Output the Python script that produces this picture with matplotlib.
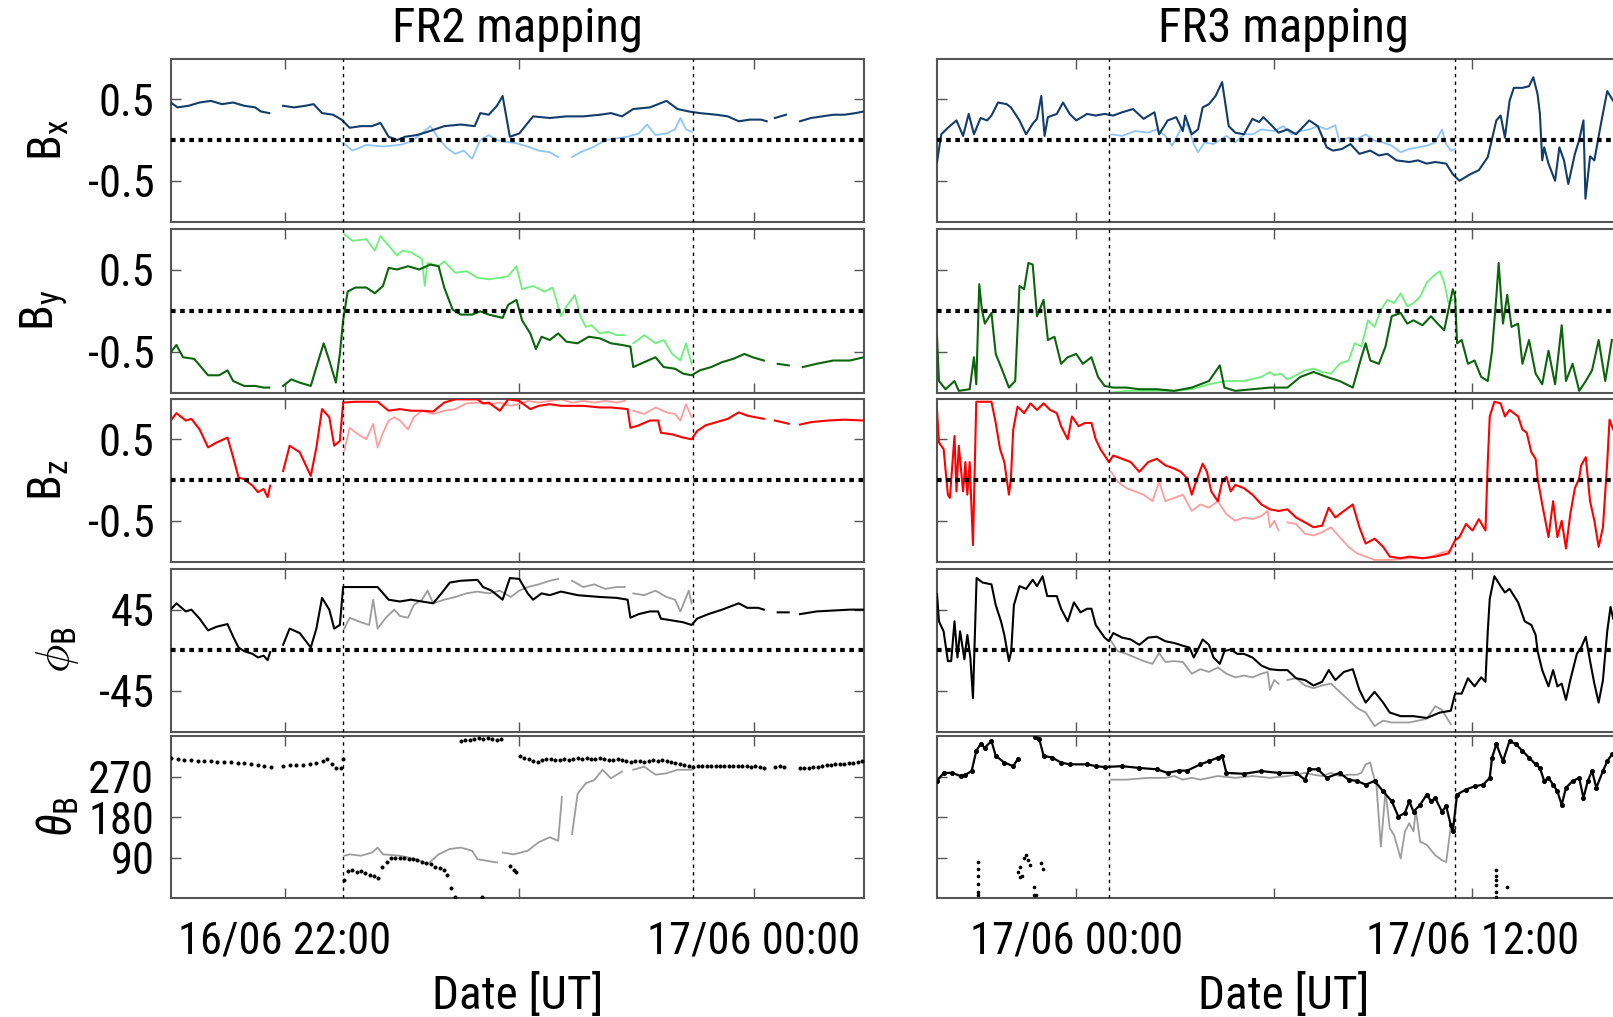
import numpy as np
import matplotlib
matplotlib.use("Agg")
from matplotlib import pyplot as plt
from matplotlib import font_manager

nan = np.nan

# ---------------- FR2 mapping (time in hours of 16/06) ----------------
fr2_bx_t = [21.514, 21.543, 21.590, 21.637, 21.685, 21.732, 21.780, 21.827, 21.874, 21.898, 21.934, 21.96,
            21.993, 22.040, 22.088, 22.123, 22.159, 22.206, 22.242, 22.277, 22.325, 22.372, 22.408, 22.443,
            22.479, 22.514, 22.562, 22.609, 22.680, 22.751, 22.810, 22.834, 22.870, 22.905, 22.929, 22.960,
            23.000, 23.059, 23.130, 23.201, 23.273, 23.344, 23.391, 23.438, 23.486, 23.557, 23.628, 23.675,
            23.723, 23.770, 23.841, 23.889, 23.936, 23.983, 24.031, 24.055, 24.07, 24.090, 24.137, 24.17,
            24.197, 24.244, 24.292, 24.339, 24.386, 24.434, 24.469]
fr2_bx = [0.46, 0.40, 0.42, 0.46, 0.48, 0.44, 0.46, 0.42, 0.40, 0.35, 0.33, nan,
          0.42, 0.40, 0.42, 0.44, 0.33, 0.31, 0.25, 0.15, 0.17, 0.17, 0.21, 0.04,
          0.00, 0.04, 0.06, 0.10, 0.17, 0.19, 0.17, 0.33, 0.31, 0.42, 0.54, 0.04,
          0.08, 0.29, 0.27, 0.29, 0.29, 0.31, 0.33, 0.29, 0.38, 0.40, 0.48, 0.38,
          0.35, 0.33, 0.31, 0.29, 0.23, 0.25, 0.25, 0.23, nan, 0.27, 0.31, nan,
          0.23, 0.27, 0.29, 0.31, 0.31, 0.33, 0.35]
fr2_bx2_t = [22.251, 22.289, 22.348, 22.419, 22.491, 22.538, 22.585, 22.621, 22.656, 22.692, 22.727, 22.763,
             22.799, 22.834, 22.870, 22.905, 22.941, 22.988, 23.036, 23.083, 23.130, 23.166, 23.19, 23.225,
             23.261, 23.320, 23.367, 23.415, 23.462, 23.509, 23.545, 23.581, 23.628, 23.664, 23.687, 23.711,
             23.735]
fr2_bx2 = [-0.04, -0.13, -0.06, -0.08, -0.06, -0.02, 0.08, 0.17, 0.02, -0.10, -0.17, -0.13,
           -0.23, 0.00, 0.06, 0.00, -0.02, -0.04, -0.08, -0.13, -0.15, -0.21, nan, -0.21,
           -0.15, -0.08, 0.00, 0.02, 0.04, 0.08, 0.19, 0.06, 0.08, 0.13, 0.27, 0.13,
           0.10]

fr2_by_t = [21.514, 21.538, 21.566, 21.614, 21.673, 21.720, 21.756, 21.780, 21.827, 21.874, 21.910, 21.934,
            21.96, 21.993, 22.028, 22.064, 22.111, 22.135, 22.166, 22.190, 22.218, 22.235, 22.249, 22.268,
            22.301, 22.348, 22.384, 22.419, 22.443, 22.479, 22.526, 22.573, 22.621, 22.656, 22.680, 22.716,
            22.751, 22.799, 22.834, 22.870, 22.929, 22.953, 22.988, 23.012, 23.047, 23.071, 23.095, 23.130,
            23.166, 23.201, 23.249, 23.296, 23.344, 23.391, 23.438, 23.474, 23.486, 23.533, 23.581, 23.616,
            23.664, 23.699, 23.735, 23.770, 23.818, 23.865, 23.912, 23.960, 23.995, 24.043, 24.07, 24.102,
            24.149, 24.17, 24.209, 24.268, 24.339, 24.410, 24.469]
fr2_by = [-0.51, -0.42, -0.57, -0.59, -0.79, -0.79, -0.73, -0.86, -0.92, -0.92, -0.94, -0.94,
          nan, -0.92, -0.84, -0.88, -0.92, -0.69, -0.40, -0.61, -0.88, -0.53, -0.12, 0.23,
          0.28, 0.28, 0.21, 0.30, 0.52, 0.50, 0.54, 0.50, 0.56, 0.54, 0.28, 0.01,
          -0.05, -0.05, -0.01, -0.05, -0.09, 0.07, 0.13, -0.12, -0.28, -0.47, -0.32, -0.36,
          -0.28, -0.38, -0.40, -0.32, -0.34, -0.40, -0.42, -0.44, -0.69, -0.63, -0.57, -0.69,
          -0.71, -0.77, -0.79, -0.73, -0.69, -0.63, -0.59, -0.53, -0.57, -0.61, nan, -0.65,
          -0.67, nan, -0.69, -0.65, -0.61, -0.61, -0.57]
fr2_by2_t = [22.254, 22.289, 22.348, 22.384, 22.408, 22.443, 22.479, 22.502, 22.538, 22.585, 22.597, 22.609,
             22.656, 22.680, 22.727, 22.775, 22.822, 22.870, 22.917, 22.953, 22.988, 23.012, 23.059, 23.107,
             23.142, 23.178, 23.201, 23.237, 23.261, 23.284, 23.308, 23.344, 23.379, 23.415, 23.450, 23.47,
             23.486, 23.533, 23.581, 23.616, 23.652, 23.687, 23.711, 23.735]
fr2_by2 = [0.93, 0.85, 0.87, 0.73, 0.91, 0.79, 0.67, 0.73, 0.71, 0.63, 0.30, 0.58,
           0.54, 0.60, 0.46, 0.48, 0.40, 0.38, 0.40, 0.42, 0.54, 0.26, 0.30, 0.23,
           0.28, -0.07, 0.05, 0.19, -0.07, -0.20, -0.18, -0.28, -0.26, -0.30, -0.30, nan,
           -0.40, -0.30, -0.40, -0.36, -0.53, -0.61, -0.40, -0.65]

fr2_bz_t = [21.514, 21.538, 21.578, 21.602, 21.637, 21.673, 21.709, 21.756, 21.780, 21.803, 21.827, 21.863,
            21.886, 21.910, 21.927, 21.938, 21.96, 21.993, 22.021, 22.064, 22.111, 22.135, 22.159, 22.190,
            22.211, 22.235, 22.249, 22.301, 22.396, 22.443, 22.491, 22.538, 22.585, 22.633, 22.680, 22.727,
            22.822, 22.846, 22.870, 22.917, 22.953, 23.000, 23.047, 23.083, 23.130, 23.178, 23.273, 23.344,
            23.391, 23.462, 23.474, 23.509, 23.557, 23.592, 23.604, 23.652, 23.699, 23.735, 23.758, 23.794,
            23.841, 23.889, 23.936, 23.972, 24.007, 24.043, 24.07, 24.090, 24.149, 24.17, 24.197, 24.244,
            24.316, 24.386, 24.469]
fr2_bz = [0.73, 0.82, 0.73, 0.75, 0.62, 0.40, 0.46, 0.52, 0.28, 0.03, 0.01, -0.07,
          -0.15, -0.11, -0.21, -0.07, nan, 0.11, 0.42, 0.34, 0.05, 0.40, 0.87, 0.77,
          0.42, 0.48, 0.95, 0.96, 0.96, 0.85, 0.87, 0.85, 0.85, 0.84, 0.95, 0.99,
          0.99, 0.94, 0.95, 0.85, 0.99, 0.97, 0.87, 0.91, 0.93, 0.91, 0.91, 0.89,
          0.89, 0.87, 0.64, 0.67, 0.73, 0.73, 0.58, 0.56, 0.52, 0.50, 0.60, 0.67,
          0.71, 0.75, 0.83, 0.79, 0.77, 0.75, nan, 0.73, 0.69, nan, 0.68, 0.71,
          0.73, 0.74, 0.73]
fr2_bz2_t = [22.254, 22.277, 22.313, 22.348, 22.377, 22.396, 22.419, 22.443, 22.467, 22.491, 22.526, 22.550,
             22.585, 22.633, 22.680, 22.727, 22.775, 22.822, 22.870, 22.917, 22.964, 23.000, 23.036, 23.083,
             23.130, 23.178, 23.225, 23.273, 23.320, 23.367, 23.415, 23.450, 23.47, 23.486, 23.533, 23.581,
             23.628, 23.664, 23.687, 23.711, 23.735]
fr2_bz2 = [0.36, 0.64, 0.56, 0.50, 0.69, 0.40, 0.58, 0.73, 0.77, 0.73, 0.62, 0.77,
           0.85, 0.81, 0.85, 0.87, 0.94, 0.95, 0.93, 0.95, 0.91, 0.93, 0.97, 0.95,
           0.97, 0.99, 0.95, 0.97, 0.95, 0.97, 0.95, 0.97, nan, 0.85, 0.81, 0.89,
           0.83, 0.81, 0.73, 0.93, 0.77]

fr2_phi_t = [21.514, 21.538, 21.578, 21.602, 21.637, 21.673, 21.709, 21.756, 21.780, 21.803, 21.827, 21.863,
             21.886, 21.910, 21.927, 21.938, 21.96, 21.993, 22.021, 22.064, 22.111, 22.135, 22.159, 22.190,
             22.211, 22.235, 22.249, 22.301, 22.396, 22.443, 22.491, 22.538, 22.585, 22.633, 22.668, 22.704,
             22.751, 22.822, 22.846, 22.882, 22.929, 22.960, 23.000, 23.036, 23.059, 23.095, 23.130, 23.178,
             23.249, 23.344, 23.415, 23.462, 23.474, 23.509, 23.557, 23.592, 23.604, 23.652, 23.699, 23.735,
             23.758, 23.806, 23.865, 23.936, 23.972, 24.019, 24.043, 24.07, 24.102, 24.149, 24.17, 24.197,
             24.268, 24.339, 24.410, 24.469]
fr2_phi = [45, 52, 43, 45, 35, 22, 26, 29, 15, 3, -1, -4,
           -8, -6, -11, -2, nan, 6, 24, 19, 3, 24, 58, 45,
           24, 28, 70, 70, 70, 56, 54, 56, 54, 52, 63, 75,
           77, 78, 70, 66, 56, 80, 79, 63, 56, 63, 61, 65,
           61, 59, 58, 56, 36, 40, 43, 43, 35, 33, 31, 28,
           35, 40, 45, 52, 47, 47, 45, nan, 42, 42, nan, 40,
           43, 44, 45, 45]
fr2_phi2_t = [22.254, 22.277, 22.325, 22.360, 22.377, 22.396, 22.431, 22.467, 22.491, 22.526, 22.550, 22.585,
              22.609, 22.633, 22.680, 22.727, 22.775, 22.822, 22.870, 22.917, 22.964, 23.000, 23.036, 23.083,
              23.130, 23.166, 23.19, 23.225, 23.273, 23.320, 23.367, 23.415, 23.450, 23.47, 23.486, 23.533,
              23.581, 23.628, 23.664, 23.687, 23.723, 23.735]
fr2_phi2 = [24, 36, 31, 28, 56, 24, 36, 45, 38, 36, 50, 56,
            66, 52, 56, 59, 63, 65, 63, 66, 59, 66, 70, 73,
            77, 79, nan, 77, 70, 73, 68, 70, 70, nan, 63, 61,
            66, 59, 56, 43, 66, 52]

fr2_theta_t = [21.514, 21.543, 21.571, 21.600, 21.628, 21.656, 21.685, 21.713, 21.742, 21.770, 21.799, 21.827,
               21.855, 21.884, 21.912, 21.941, 21.993, 22.021, 22.050, 22.078, 22.107, 22.135, 22.164, 22.182,
               22.201, 22.220, 22.239, 22.249, 22.254, 22.268, 22.287, 22.306, 22.325, 22.344, 22.363, 22.382,
               22.396, 22.415, 22.434, 22.453, 22.472, 22.491, 22.509, 22.528, 22.547, 22.566, 22.585, 22.604,
               22.623, 22.642, 22.661, 22.680, 22.694, 22.709, 22.727, 22.841, 22.751, 22.770, 22.789, 22.808,
               22.827, 22.846, 22.865, 22.884, 22.903, 22.922, 22.960, 22.976, 22.988, 23.002, 23.021, 23.040,
               23.059, 23.078, 23.097, 23.116, 23.135, 23.154, 23.173, 23.192, 23.211, 23.230, 23.249, 23.268,
               23.287, 23.306, 23.325, 23.344, 23.363, 23.382, 23.401, 23.419, 23.438, 23.457, 23.476, 23.495,
               23.514, 23.533, 23.552, 23.571, 23.590, 23.609, 23.628, 23.647, 23.666, 23.685, 23.704, 23.723,
               23.742, 23.761, 23.780, 23.799, 23.818, 23.837, 23.855, 23.874, 23.893, 23.912, 23.931, 23.950,
               23.969, 23.988, 24.007, 24.026, 24.045, 24.092, 24.111, 24.130, 24.197, 24.216, 24.235, 24.254,
               24.273, 24.292, 24.311, 24.330, 24.348, 24.367, 24.386, 24.405, 24.424, 24.443, 24.462]
fr2_theta = [311, 309, 307, 306, 305, 304, 304, 303, 302, 302, 301, 299,
             297, 295, 293, 291, 294, 295, 295, 296, 297, 299, 305, 308,
             298, 290, 289, 309, 41, 60, 62, 58, 60, 55, 52, 48,
             45, 70, 80, 88, 90, 88, 90, 87, 86, 84, 80, 78,
             75, 70, 66, 62, 52, 22, 3, 2, 349, 352, 351, 354,
             356, 354, 355, 353, 352, 354, 71, 62, 57, 316, 312, 308,
             305, 302, 306, 309, 310, 307, 306, 308, 306, 309, 311, 310,
             312, 310, 309, 311, 308, 307, 306, 308, 306, 304, 303, 304,
             305, 303, 305, 306, 305, 307, 304, 302, 300, 298, 296, 293,
             292, 294, 294, 293, 294, 294, 293, 294, 293, 294, 293, 294,
             293, 292, 293, 292, 290, 292, 293, 291, 289, 288, 290, 291,
             292, 294, 295, 296, 297, 298, 298, 299, 300, 302, 304]
fr2_theta2_t = [22.254, 22.277, 22.325, 22.372, 22.396, 22.419, 22.491, 22.562, 22.609, 22.656, 22.704, 22.751,
                22.799, 22.822, 22.870, 22.905, 22.915, 22.929, 22.976, 23.036, 23.083, 23.130, 23.166, 23.182,
                23.20, 23.225, 23.249, 23.284, 23.320, 23.355, 23.391, 23.438, 23.46, 23.486, 23.533, 23.581,
                23.628, 23.675, 23.735]
fr2_theta2 = [94, 97, 94, 101, 112, 97, 94, 86, 75, 97, 109, 112,
              105, 86, 82, 79, nan, 101, 97, 105, 124, 135, 127, 225,
              nan, 142, 232, 255, 262, 285, 266, 281, nan, 285, 292, 274,
              277, 285, 285]

# ---------------- FR3 mapping (time in hours from 17/06 00:00) ----------------
fr3_bx_t = [-4.22, -4.09, -3.89, -3.63, -3.43, -3.26, -3.10, -2.90, -2.70, -2.57, -2.37, -2.11,
            -1.98, -1.72, -1.52, -1.32, -1.19, -1.06, -0.96, -0.86, -0.59, -0.40, -0.20, 0.00,
            0.33, 0.59, 0.86, 1.12, 1.39, 1.72, 2.04, 2.37, 2.51, 2.77, 3.03, 3.23,
            3.30, 3.50, 3.69, 3.83, 4.02, 4.22, 4.42, 4.62, 4.82, 5.08, 5.34, 5.54,
            5.67, 5.87, 6.13, 6.40, 6.66, 7.06, 7.32, 7.59, 7.78, 8.05, 8.31, 8.58,
            8.91, 9.17, 9.43, 9.70, 10.09, 10.36, 10.62, 10.88, 11.21, 11.41, 11.61, 11.94,
            12.20, 12.47, 12.73, 12.86, 12.99, 13.13, 13.26, 13.52, 13.72, 13.85, 13.98, 14.05,
            14.12, 14.18, 14.31, 14.51, 14.64, 14.78, 14.91, 15.11, 15.24, 15.37, 15.43, 15.57,
            15.70, 15.90, 16.09, 16.27]
fr3_bx = [-0.27, 0.07, 0.15, 0.24, 0.05, 0.32, 0.07, 0.27, 0.24, 0.30, 0.46, 0.44,
          0.40, 0.24, 0.07, 0.20, 0.26, 0.54, 0.05, 0.28, 0.32, 0.46, 0.32, 0.24,
          0.32, 0.30, 0.32, 0.30, 0.34, 0.38, 0.26, 0.34, 0.07, 0.24, 0.28, 0.11,
          0.30, 0.07, 0.13, 0.40, 0.44, 0.54, 0.71, 0.17, 0.09, 0.07, 0.26, 0.22,
          0.28, 0.20, 0.09, 0.13, 0.07, 0.24, 0.17, -0.09, -0.13, -0.11, -0.05, -0.17,
          -0.13, -0.19, -0.17, -0.25, -0.27, -0.25, -0.29, -0.27, -0.29, -0.42, -0.50, -0.42,
          -0.37, -0.21, 0.24, 0.30, 0.03, 0.48, 0.64, 0.64, 0.66, 0.77, 0.56, 0.32,
          -0.25, -0.09, -0.29, -0.50, -0.09, -0.25, -0.54, -0.17, 0.00, 0.24, -0.72, -0.20,
          -0.25, 0.20, 0.60, 0.48]
fr3_bx2_t = [1.06, 1.39, 1.78, 2.18, 2.44, 2.70, 2.90, 3.17, 3.36, 3.56, 3.69, 3.89,
             4.16, 4.55, 4.82, 5.08, 5.34, 5.61, 6.00, 6.27, 6.53, 6.79, 7.06, 7.32,
             7.59, 7.85, 7.98, 8.25, 8.51, 8.77, 9.04, 9.30, 9.56, 9.83, 10.09, 10.36,
             10.62, 10.88, 11.08, 11.21, 11.35, 11.48]
fr3_bx2 = [0.07, 0.05, 0.11, 0.09, 0.13, 0.05, -0.07, 0.13, 0.20, -0.05, -0.15, -0.03,
           -0.05, 0.05, -0.03, 0.07, 0.07, 0.13, 0.11, 0.17, 0.07, 0.11, 0.13, 0.17,
           0.13, 0.18, -0.03, 0.03, 0.01, 0.07, -0.01, -0.03, -0.07, -0.15, -0.11, -0.09,
           -0.07, -0.03, 0.13, -0.05, -0.13, -0.11]

fr3_by_t = [-4.22, -4.16, -3.96, -3.69, -3.56, -3.23, -3.10, -3.03, -2.94, -2.86, -2.77, -2.57,
            -2.44, -2.24, -2.04, -1.85, -1.72, -1.58, -1.45, -1.32, -1.19, -0.99, -0.86, -0.66,
            -0.46, -0.26, 0.00, 0.20, 0.46, 0.66, 0.86, 1.12, 1.52, 1.91, 2.44, 2.97,
            3.50, 4.02, 4.35, 4.49, 4.82, 5.34, 5.87, 6.40, 6.79, 7.19, 7.59, 7.98,
            8.38, 8.64, 8.77, 8.91, 9.17, 9.37, 9.56, 9.83, 10.03, 10.22, 10.49, 10.75,
            10.95, 11.15, 11.28, 11.41, 11.48, 11.54, 11.68, 11.87, 12.07, 12.27, 12.47, 12.60,
            12.73, 12.80, 12.93, 13.06, 13.19, 13.39, 13.52, 13.72, 13.92, 14.12, 14.31, 14.51,
            14.71, 14.84, 15.04, 15.24, 15.44, 15.63, 15.83, 16.03, 16.23]
fr3_by = [-0.32, -0.86, -0.96, -0.86, -0.98, -0.96, -0.57, -0.90, 0.32, 0.01, -0.16, -0.03,
          -0.53, -0.73, -0.94, -0.86, 0.30, 0.26, 0.58, 0.56, -0.07, 0.13, -0.36, -0.32,
          -0.65, -0.57, -0.53, -0.65, -0.57, -0.81, -0.92, -0.94, -0.94, -0.96, -0.96, -0.98,
          -0.94, -0.86, -0.67, -0.94, -0.98, -0.96, -0.94, -0.94, -0.81, -0.75, -0.81, -0.86,
          -0.94, -0.57, -0.40, -0.61, -0.65, -0.44, -0.07, -0.03, -0.16, -0.12, -0.18, -0.07,
          -0.16, -0.24, 0.01, 0.26, 0.17, -0.40, -0.36, -0.65, -0.61, -0.81, -0.86, -0.49,
          0.17, 0.58, -0.16, 0.19, -0.20, -0.16, -0.65, -0.36, -0.77, -0.90, -0.49, -0.90,
          -0.18, -0.86, -0.65, -0.98, -0.86, -0.73, -0.36, -0.86, -0.36]
fr3_by2_t = [1.06, 1.52, 2.18, 2.97, 3.50, 4.02, 4.55, 5.08, 5.61, 5.87, 6.00, 6.20,
             6.40, 6.66, 6.93, 7.19, 7.45, 7.72, 7.98, 8.25, 8.44, 8.64, 8.84, 9.04,
             9.23, 9.43, 9.63, 9.83, 10.03, 10.22, 10.42, 10.62, 10.82, 11.02, 11.15, 11.28,
             11.41]
fr3_by2 = [-1.00, -0.98, -0.98, -0.98, -0.96, -0.90, -0.86, -0.86, -0.81, -0.75, -0.79, -0.77,
           -0.84, -0.79, -0.73, -0.71, -0.75, -0.77, -0.65, -0.61, -0.40, -0.44, -0.12, -0.20,
           0.01, 0.13, 0.09, 0.21, 0.05, 0.09, 0.17, 0.34, 0.42, 0.48, 0.34, 0.09,
           0.13]

fr3_bz_t = [-4.22, -4.16, -4.02, -3.89, -3.83, -3.69, -3.63, -3.56, -3.43, -3.36, -3.30, -3.23,
            -3.13, -3.03, -2.84, -2.57, -2.44, -2.31, -2.18, -2.04, -1.98, -1.91, -1.78, -1.58,
            -1.39, -1.19, -0.99, -0.79, -0.59, -0.46, -0.26, -0.13, 0.07, 0.26, 0.46, 0.59,
            0.73, 0.86, 0.99, 1.12, 1.39, 1.65, 1.91, 2.18, 2.44, 2.70, 2.97, 3.17,
            3.36, 3.50, 3.63, 3.83, 3.96, 4.09, 4.29, 4.42, 4.55, 4.68, 4.82, 5.08,
            5.34, 5.61, 5.87, 6.13, 6.40, 6.66, 6.93, 7.19, 7.45, 7.65, 7.85, 8.11,
            8.38, 8.58, 8.77, 9.04, 9.30, 9.50, 9.83, 10.09, 10.49, 10.88, 11.28, 11.48,
            11.61, 11.81, 12.01, 12.20, 12.40, 12.47, 12.53, 12.67, 12.86, 12.99, 13.13, 13.39,
            13.52, 13.65, 13.79, 13.92, 13.98, 14.12, 14.31, 14.45, 14.58, 14.71, 14.84, 14.97,
            15.11, 15.24, 15.30, 15.44, 15.57, 15.70, 15.83, 15.96, 16.09, 16.16, 16.27]
fr3_bz = [0.86, 0.46, 0.38, -0.18, -0.22, 0.54, -0.14, 0.42, -0.14, 0.22, -0.18, 0.22,
          -0.80, 0.96, 0.96, 0.96, 0.70, 0.38, 0.22, -0.18, 0.02, 0.62, 0.90, 0.82,
          0.94, 0.86, 0.94, 0.86, 0.82, 0.66, 0.50, 0.78, 0.66, 0.70, 0.70, 0.50,
          0.38, 0.30, 0.22, 0.30, 0.26, 0.22, 0.10, 0.22, 0.26, 0.18, 0.14, 0.10,
          0.02, -0.18, -0.02, 0.20, 0.10, -0.14, -0.26, -0.02, 0.04, -0.14, -0.06, -0.10,
          -0.18, -0.30, -0.36, -0.38, -0.36, -0.46, -0.52, -0.58, -0.56, -0.34, -0.46, -0.38,
          -0.30, -0.58, -0.78, -0.72, -0.82, -0.94, -0.96, -0.94, -0.96, -0.94, -0.90, -0.74,
          -0.70, -0.54, -0.62, -0.48, -0.62, 0.22, 0.78, 0.96, 0.94, 0.78, 0.86, 0.78,
          0.62, 0.58, 0.34, 0.26, 0.02, -0.30, -0.70, -0.26, -0.70, -0.50, -0.84, -0.42,
          -0.10, 0.02, 0.18, 0.28, -0.26, -0.50, -0.82, -0.58, 0.22, 0.74, 0.62]
fr3_bz2_t = [1.06, 1.25, 1.52, 1.78, 2.04, 2.31, 2.51, 2.70, 2.97, 3.23, 3.50, 3.76,
             4.02, 4.29, 4.55, 4.82, 5.08, 5.34, 5.61, 5.80, 5.87, 6.00, 6.13, 6.27,
             6.40, 6.66, 6.93, 7.19, 7.45, 7.72, 7.98, 8.25, 8.51, 8.77, 9.04, 9.56,
             10.09, 10.62, 11.02, 11.35]
fr3_bz2 = [0.10, -0.02, -0.10, -0.14, -0.18, -0.26, -0.02, -0.26, -0.22, -0.18, -0.38, -0.30,
           -0.34, -0.26, -0.42, -0.50, -0.46, -0.48, -0.44, -0.38, -0.58, -0.50, -0.62, nan,
           -0.52, -0.54, -0.66, -0.68, -0.64, -0.58, -0.70, -0.82, -0.90, -0.94, -0.98, -0.98,
           -0.96, -0.96, -0.90, -0.86]

fr3_phi_t = [-4.22, -4.16, -4.02, -3.89, -3.79, -3.69, -3.60, -3.52, -3.39, -3.30, -3.21, -3.13,
             -3.02, -2.84, -2.57, -2.44, -2.28, -2.18, -2.04, -1.97, -1.89, -1.72, -1.52, -1.32,
             -1.19, -1.02, -0.88, -0.59, -0.46, -0.26, -0.07, 0.13, 0.33, 0.46, 0.59, 0.86,
             0.99, 1.12, 1.39, 1.65, 1.91, 2.18, 2.44, 2.70, 2.97, 3.23, 3.43, 3.56,
             3.69, 3.83, 4.02, 4.16, 4.35, 4.49, 4.68, 4.88, 5.08, 5.34, 5.61, 5.87,
             6.13, 6.40, 6.66, 6.93, 7.19, 7.45, 7.65, 7.85, 8.11, 8.38, 8.58, 8.77,
             9.04, 9.30, 9.50, 9.83, 10.22, 10.62, 11.02, 11.35, 11.48, 11.68, 11.87, 12.07,
             12.27, 12.40, 12.47, 12.53, 12.67, 12.86, 12.99, 13.13, 13.39, 13.59, 13.79, 13.92,
             13.98, 14.12, 14.31, 14.45, 14.58, 14.71, 14.84, 14.97, 15.17, 15.30, 15.44, 15.57,
             15.70, 15.83, 15.96, 16.09, 16.19, 16.27]
fr3_phi = [62, 32, 21, -12, -12, 32, -8, 21, -10, 17, -8, -53,
           80, 75, 73, 50, 32, 17, -12, -1, 50, 71, 68, 78,
           71, 82, 60, 60, 46, 32, 53, 42, 46, 46, 28, 14,
           10, 19, 14, 12, 6, 14, 15, 10, 8, 5, 3, -8,
           1, 12, 6, -8, -15, -1, 1, -4, -4, -8, -17, -21,
           -22, -22, -31, -33, -39, -35, -22, -33, -24, -21, -44, -58,
           -46, -58, -69, -73, -73, -75, -69, -67, -48, -48, -31, -40,
           -30, -35, 21, 57, 82, 71, 64, 68, 53, 32, 28, 17,
           -1, -22, -40, -22, -40, -37, -55, -33, -4, 3, 15, -12,
           -37, -58, -33, 21, 48, 35]
fr3_phi2_t = [1.06, 1.25, 1.52, 1.78, 2.04, 2.31, 2.51, 2.70, 2.97, 3.23, 3.50, 3.76,
              4.02, 4.29, 4.55, 4.82, 5.08, 5.34, 5.61, 5.80, 5.87, 6.00, 6.13, 6.27,
              6.40, 6.66, 6.93, 7.19, 7.45, 7.72, 7.98, 8.25, 8.51, 8.77, 9.04, 9.30,
              9.56, 10.09, 10.62, 10.88, 11.08, 11.35]
fr3_phi2 = [10, -1, -4, -8, -12, -15, -3, -13, -12, -13, -26, -21,
            -24, -19, -26, -30, -28, -30, -26, -24, -44, -33, -37, nan,
            -33, -31, -39, -42, -39, -37, -46, -55, -64, -69, -84, -78,
            -80, -80, -76, -62, -66, -82]

fr3_theta_t = [-4.22, -4.02, -3.76, -3.50, -3.36, -3.17, -3.03, -2.90, -2.77, -2.57, -2.44, -2.18,
               -1.91, -1.78, -1.50, -1.25, -1.12, -0.99, -0.73, -0.46, -0.20, 0.33, 0.59, 0.86,
               1.39, 1.91, 2.44, 2.77, 3.10, 3.36, 3.76, 4.02, 4.29, 4.42, 4.55, 5.08,
               5.61, 6.13, 6.66, 6.93, 7.06, 7.32, 7.59, 7.98, 8.25, 8.51, 8.77, 9.04,
               9.30, 9.56, 9.76, 9.96, 10.09, 10.22, 10.42, 10.62, 10.75, 10.88, 11.08, 11.21,
               11.35, 11.41, 11.54, 11.81, 12.07, 12.33, 12.53, 12.60, 12.73, 12.93, 13.13, 13.32,
               13.52, 13.72, 13.92, 14.05, 14.18, 14.31, 14.45, 14.58, 14.71, 14.84, 15.04, 15.24,
               15.37, 15.50, 15.63, 15.76, 15.96, 16.09, 16.23]
fr3_theta = [260, 278, 278, 271, 274, 282, 327, 342, 334, 349, 316, 301,
             293, 308, nan, 357, 353, 316, 312, 301, 297, 297, 293, 291,
             293, 289, 286, 278, 283, 283, 297, 304, 312, 316, 278, 276,
             282, 278, 278, 263, 286, 286, 267, 278, 263, 260, 252, 260,
             237, 215, 181, 189, 215, 192, 207, 230, 215, 222, 192, 204,
             162, 148, 230, 241, 248, 252, 267, 312, 342, 304, 349, 342,
             327, 312, 297, 289, 260, 267, 252, 237, 207, 245, 260, 267,
             222, 260, 282, 245, 282, 304, 319]
fr3_theta_iso_t = [-2.97, -2.97, -2.97, -2.97, -2.97, -2.97, -1.78, -1.72, -1.72, -1.65, -1.58, -1.52,
                   -1.45, -1.39, -1.28, -1.28, -1.23, -1.06, -1.02, 12.73, 12.73, 12.73, 12.73, 12.73,
                   12.73, 13.06]
fr3_theta_iso = [80, 65, 50, 32, 13, 6, 58, 69, 47, 50, 88, 95,
                 84, 73, 24, 6, 6, 77, 65, 62, 50, 39, 28, 13,
                 2, 24]
fr3_theta2_t = [1.06, 1.52, 2.18, 2.70, 2.97, 3.23, 3.50, 3.76, 4.29, 4.82, 5.34, 5.87,
                6.40, 6.93, 7.19, 7.45, 7.72, 7.98, 8.25, 8.51, 8.64, 8.77, 8.91, 8.97,
                9.10, 9.23, 9.37, 9.50, 9.63, 9.83, 9.96, 10.09, 10.22, 10.29, 10.42, 10.62,
                10.88, 11.08, 11.21, 11.35]
fr3_theta2 = [263, 263, 267, 267, 271, 263, 267, 263, 271, 267, 271, 267,
              271, 278, 274, 271, 278, 271, 274, 274, 278, 297, 301, 282,
              248, 114, 237, 155, 140, 88, 148, 166, 148, 196, 125, 118,
              95, 84, 80, 159]

# ---------------- axes labels / ticks ----------------
titles = ["FR2 mapping", "FR3 mapping"]
ylabels = [r"B$_\mathregular{x}$", r"B$_\mathregular{y}$", r"B$_\mathregular{z}$",
           r"$\phi_\mathregular{B}$", r"$\theta_\mathregular{B}$"]
xlims = [(21.515, 24.47), (-4.22, 16.78)]
xticks = [[22, 23, 24], [0, 6, 12]]
xticklabels = [["16/06 22:00", "", "17/06 00:00"], ["17/06 00:00", "", "17/06 12:00"]]
vlines = [[22.25, 23.74], [1.0, 11.48]]

# ---------------- style ----------------
names = {f.name for f in font_manager.fontManager.ttflist}
fam = None
stretch = "normal"
for cand in ["Liberation Sans Narrow", "Arial Narrow", "Nimbus Sans Narrow", "Noto Sans Condensed",
             "Roboto Condensed", "Open Sans Condensed", "DejaVu Sans Condensed"]:
    if cand in names:
        fam = cand
        break
if fam is None:
    for f in font_manager.fontManager.ttflist:
        if str(f.stretch) in ("condensed", "semi-condensed") and f.name in (
                "Noto Sans", "Open Sans", "Roboto", "DejaVu Sans", "Liberation Sans"):
            fam, stretch = f.name, str(f.stretch)
            break
narrow = fam is not None
if fam is None:
    fam = "Liberation Sans"
fs = 32 if narrow else 28
plt.rcParams["font.family"] = [fam, "DejaVu Sans"]
plt.rcParams["font.stretch"] = stretch
plt.rcParams["mathtext.fontset"] = "custom"
plt.rcParams["mathtext.rm"] = fam
plt.rcParams["mathtext.it"] = fam + ":italic"

dark = ["#123d6b", "#0b650b", "#ff0000", "black", "black"]
light = ["#8ec6f7", "#6cf07a", "#ff9c9c", "#9c9c9c", "#9c9c9c"]
spine_c = "#555555"

fr2 = [(fr2_bx_t, fr2_bx, fr2_bx2_t, fr2_bx2), (fr2_by_t, fr2_by, fr2_by2_t, fr2_by2),
       (fr2_bz_t, fr2_bz, fr2_bz2_t, fr2_bz2), (fr2_phi_t, fr2_phi, fr2_phi2_t, fr2_phi2),
       (fr2_theta_t, fr2_theta, fr2_theta2_t, fr2_theta2)]
fr3 = [(fr3_bx_t, fr3_bx, fr3_bx2_t, fr3_bx2), (fr3_by_t, fr3_by, fr3_by2_t, fr3_by2),
       (fr3_bz_t, fr3_bz, fr3_bz2_t, fr3_bz2), (fr3_phi_t, fr3_phi, fr3_phi2_t, fr3_phi2),
       (fr3_theta_t, fr3_theta, fr3_theta2_t, fr3_theta2)]

W, H = 1613, 1017
fig = plt.figure(figsize=(W / 100, H / 100), dpi=100)
col_x = [171, 937]
col_w = 693
rows = [(58.5, 221.5), (228.5, 392.5), (398.5, 561.5), (569, 731.5), (736, 898)]

for c, data in enumerate([fr2, fr3]):
    axes = []
    for r, (t1, y1, t2, y2) in enumerate(data):
        top, bot = rows[r]
        ax = fig.add_axes([col_x[c] / W, 1 - bot / H, col_w / W, (bot - top) / H])
        axes.append(ax)
        if r < 4:
            ax.plot(t2, y2, color=light[r], lw=1.3, zorder=2)
            ax.plot(t1, y1, color=dark[r], lw=1.5, zorder=3)
            lim = 90 if r == 3 else 1
            ax.axhline(0, color="black", lw=3.0, ls=(0, (1.1, 1.1)), zorder=4)
            ax.set_yticks([45, -45] if r == 3 else [0.5, -0.5])
            ax.set_yticklabels(["45", "-45"] if r == 3 else ["0.5", "-0.5"])
            ax.set_ylim(-lim, lim)
        else:
            ax.plot(t2, y2, color=light[r], lw=1.3, zorder=2)
            if c == 1:
                ax.plot(t1, y1, color="black", lw=1.6, zorder=3)
                ax.plot(fr3_theta_iso_t, fr3_theta_iso, ls="none", marker="o", ms=1.6,
                        color="black", zorder=3)
                ax.plot(t1, y1, ls="none", marker="o", ms=2.6, color="black", zorder=3)
            else:
                ax.plot(t1, y1, ls="none", marker="o", ms=1.9, color="black", zorder=3)
            ax.set_yticks([90, 180, 270])
            ax.set_yticklabels(["90", "180", "270"])
            ax.set_ylim(0, 360)
        for v in vlines[c]:
            ax.axvline(v, color="black", lw=1.0, ls=(0, (2.5, 3)), zorder=5)
        ax.set_xticks(xticks[c])
        ax.set_xlim(*xlims[c])
        ax.tick_params(direction="in", length=7, width=1, color=spine_c, top=True, right=True,
                       labelsize=fs, pad=12)
        for s in ax.spines.values():
            s.set_color(spine_c)
            s.set_linewidth(1.5)
        if r < 4:
            ax.set_xticklabels([])
        else:
            ax.set_xticklabels(xticklabels[c])
            ax.tick_params(axis="x", pad=16)
            ax.set_xlabel("Date [UT]", fontsize=fs + 2, labelpad=8)
        if c == 0:
            ax.set_ylabel(ylabels[r], fontsize=fs + 2)
            ax.yaxis.set_label_coords(-0.145 if r < 3 else -0.13, 0.5)
        else:
            ax.set_yticklabels([])
    axes[0].set_title(titles[c], fontsize=fs + 3, pad=12)

fig.savefig("out.png", dpi=100)
